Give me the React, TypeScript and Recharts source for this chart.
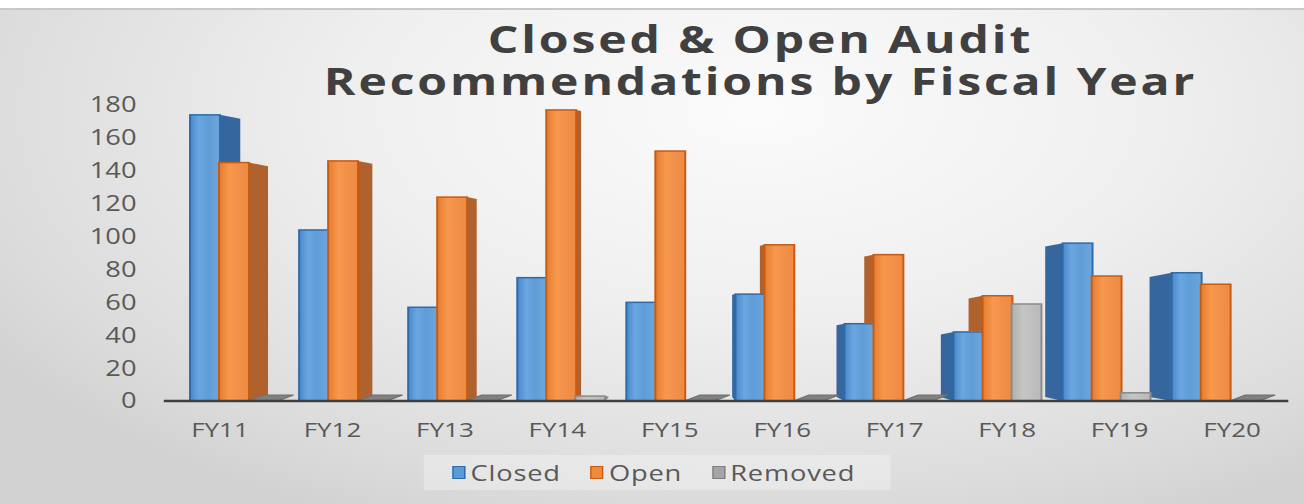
import { BarChart, Bar, XAxis, YAxis, CartesianGrid } from 'recharts'

const years = ['FY11', 'FY12', 'FY13', 'FY14', 'FY15', 'FY16', 'FY17', 'FY18', 'FY19', 'FY20']
const closed = [174, 104, 57, 75, 60, 65, 47, 42, 96, 78]
const open = [145, 146, 124, 177, 152, 95, 89, 64, 76, 71]
const removed = [0, 0, 0, 3, 0, 0, 0, 59, 5, 0]
const yTicks = [0, 20, 40, 60, 80, 100, 120, 140, 160, 180]
const titleLines = ['Closed & Open Audit', 'Recommendations by Fiscal Year']

const data = years.map((fy, i) => ({
  fy,
  Closed: closed[i],
  Open: open[i],
  Removed: removed[i],
}))

// the source picture is stretched sideways, so the chart is drawn narrow and scaled
const STRETCH = 1.3
const W = 1003
const H = 504
const VIEW_X = 519 // where the "camera" sits, for the fake 3d look

type Look = {
  key: string
  prev?: string
  grad: string
  stroke: string
  side: string
}

const looks: Look[] = [
  { key: 'Closed', grad: 'gClosed', stroke: '#2e6aa8', side: '#35679e' },
  { key: 'Open', prev: 'Closed', grad: 'gOpen', stroke: '#c65b14', side: '#b0622e' },
  { key: 'Removed', prev: 'Open', grad: 'gRemoved', stroke: '#8a8a8a', side: '#868686' },
]

function makeShape(look: Look) {
  return function Shape(props: any) {
    const x = Number(props.x) || 0
    const y = Number(props.y) || 0
    const w = Number(props.width) || 0
    const h = Number(props.height) || 0
    const p = props.payload || {}
    const v = Number(p[look.key]) || 0
    const base = y + h
    const d = VIEW_X - (x + w / 2)
    const fx = x + d * 0.03
    const sw = Math.abs(d) * 0.042
    const drop = sw * 0.25

    if (h < 1) {
      // empty value: Excel still shows the floor tile
      return (
        <polygon
          points={`${fx},${base} ${fx + w},${base} ${fx + w + 12},${base - 6} ${fx + 12},${base - 6}`}
          fill="#808080"
          stroke="#6f6f6f"
          strokeWidth={1}
        />
      )
    }

    let side = null
    if (d > 0) {
      side = (
        <polygon
          points={`${fx + w},${y} ${fx + w + sw},${y + drop} ${fx + w + sw},${base - 4} ${fx + w},${base}`}
          fill={look.side}
        />
      )
    } else {
      let bottom = base
      if (look.prev && v > 0) {
        const ppu = h / v
        bottom = Math.min(base, base - (Number(p[look.prev]) || 0) * ppu)
      }
      if (bottom > y + 1) {
        side = (
          <polygon
            points={`${fx},${y} ${fx - sw},${y + drop} ${fx - sw},${bottom === base ? base - 4 : bottom} ${fx},${bottom}`}
            fill={look.side}
          />
        )
      }
    }

    return (
      <g>
        {side}
        <rect x={fx} y={y} width={w} height={h} fill={`url(#${look.grad})`} stroke={look.stroke} strokeWidth={1.5} />
      </g>
    )
  }
}

function backWall(props: any) {
  const s = props?.yAxis?.scale
  if (typeof s !== 'function') return []
  const base = s(0)
  return yTicks.slice(1).map((t) => base - 10 - (base - s(t)) * 0.93)
}

const legendItems = [
  { name: 'Closed', fill: '#5b9bd5', stroke: '#2e6aa8' },
  { name: 'Open', fill: '#f08a3c', stroke: '#c65b14' },
  { name: 'Removed', fill: '#a5a5a5', stroke: '#7f7f7f' },
]

function LegendBox() {
  return (
    <div
      style={{
        position: 'absolute',
        left: 326,
        top: 455,
        width: 359,
        height: 35,
        display: 'flex',
        alignItems: 'center',
        gap: 23,
        paddingLeft: 22,
        boxSizing: 'border-box',
        background: 'rgba(255,255,255,0.3)',
      }}
    >
      {legendItems.map((it) => (
        <div key={it.name} style={{ display: 'flex', alignItems: 'center' }}>
          <div
            style={{
              width: 8,
              height: 11,
              background: it.fill,
              border: `1px solid ${it.stroke}`,
              marginRight: 4,
            }}
          />
          <span style={{ fontSize: 21, color: '#595959', letterSpacing: 0.6 }}>{it.name}</span>
        </div>
      ))}
    </div>
  )
}

export default function App() {
  return (
    <div
      style={{
        position: 'absolute',
        left: 0,
        top: 0,
        width: 1304,
        height: 504,
        overflow: 'hidden',
        fontFamily: '"Open Sans", sans-serif',
        background:
          'radial-gradient(ellipse 70% 90% at 58% 22%, #fbfbfb 0%, #efefef 45%, #dcdcdc 85%, #d2d2d2 100%)',
      }}
    >
      <div style={{ position: 'absolute', left: 0, top: 0, width: 1304, height: 8, background: '#fff', borderBottom: '2px solid #c8c8c8' }} />
      <div
        style={{
          position: 'absolute',
          left: 0,
          top: 0,
          width: W,
          height: H,
          transform: `scaleX(${STRETCH})`,
          transformOrigin: '0 0',
        }}
      >
        {titleLines.map((line, i) => (
          <div
            key={line}
            style={{
              position: 'absolute',
              left: 185,
              width: 800,
              top: 21 + i * 42,
              height: 36,
              textAlign: 'center',
              fontSize: 37,
              lineHeight: '36px',
              letterSpacing: 2.2,
              fontWeight: 700,
              color: '#404040',
              whiteSpace: 'nowrap',
            }}
          >
            {line}
          </div>
        ))}
        <BarChart
          width={W}
          height={H}
          data={data}
          margin={{ top: 105, right: 12, left: 0, bottom: 73 }}
          barGap={0}
          barSize={23}
        >
          <defs>
            <linearGradient id="gClosed" x1="0" y1="0" x2="1" y2="0">
              <stop offset="0%" stopColor="#4a88cc" />
              <stop offset="30%" stopColor="#6aa6e0" />
              <stop offset="60%" stopColor="#5f9dd8" />
              <stop offset="100%" stopColor="#6fa6da" />
            </linearGradient>
            <linearGradient id="gOpen" x1="0" y1="0" x2="1" y2="0">
              <stop offset="0%" stopColor="#e67c30" />
              <stop offset="35%" stopColor="#f7984c" />
              <stop offset="65%" stopColor="#f2904a" />
              <stop offset="100%" stopColor="#ef8b40" />
            </linearGradient>
            <linearGradient id="gRemoved" x1="0" y1="0" x2="1" y2="0">
              <stop offset="0%" stopColor="#b0b0b0" />
              <stop offset="40%" stopColor="#c6c6c6" />
              <stop offset="100%" stopColor="#b8b8b8" />
            </linearGradient>
          </defs>
          <CartesianGrid
            vertical={false}
            stroke="#d4d4d4"
            strokeWidth={2}
            horizontalCoordinatesGenerator={backWall}
          />
          <XAxis
            dataKey="fy"
            tickLine={false}
            tickSize={0}
            tickMargin={22}
            height={30}
            axisLine={{ stroke: '#3f3f3f', strokeWidth: 2.5 }}
            tick={{ fill: '#595959', fontSize: 20 }}
          />
          <YAxis
            domain={[0, 180]}
            ticks={yTicks}
            width={126}
            tickLine={false}
            axisLine={false}
            tickSize={0}
            tickMargin={21}
            tick={{ fill: '#595959', fontSize: 21 }}
          />
          {looks.map((lk) => (
            <Bar
              key={lk.key}
              dataKey={lk.key}
              fill={lk.side}
              shape={makeShape(lk)}
              isAnimationActive={false}
            />
          ))}
        </BarChart>
        <LegendBox />
      </div>
    </div>
  )
}
